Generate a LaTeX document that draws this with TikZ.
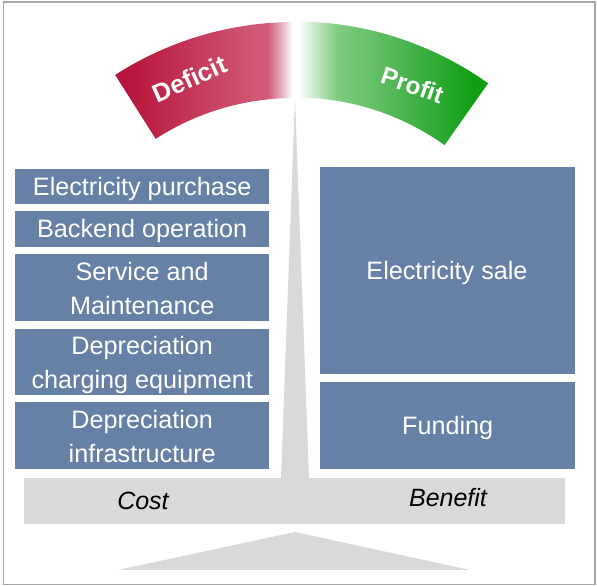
\documentclass[tikz,border=0pt]{standalone}
\usepackage{fontspec}
\setmainfont{Liberation Sans}
\definecolor{boxblue}{HTML}{6680A6}
\definecolor{beamgrey}{HTML}{D9D9D9}
\definecolor{framegrey}{HTML}{A6A6A6}
\definecolor{redend}{HTML}{B8163C}
\definecolor{redmid}{HTML}{D05A75}
\definecolor{redpale}{HTML}{E8B0BE}
\definecolor{greenend}{HTML}{0E9E12}
\definecolor{greenmid}{HTML}{80CC80}
\definecolor{greenhalf}{HTML}{4DB552}
\definecolor{greenpale}{HTML}{CDEBCF}
\pgfdeclarehorizontalshading{deficitfade}{100bp}{color(0bp)=(redend); color(29bp)=(redend); color(64bp)=(redmid); color(67bp)=(redmid); color(71bp)=(redpale); color(74bp)=(white); color(100bp)=(white)}
\pgfdeclarehorizontalshading{profitfade}{100bp}{color(0bp)=(white); color(25bp)=(white); color(29bp)=(greenpale); color(35bp)=(greenmid); color(52bp)=(greenhalf); color(71bp)=(greenend); color(100bp)=(greenend)}
\tikzset{
  costbox/.style={fill=boxblue,text=white,font=\fontsize{25.2}{34}\selectfont,align=center,anchor=north west,inner sep=0pt,minimum width=254pt},
  gainbox/.style={fill=boxblue,text=white,font=\fontsize{25.2}{34}\selectfont,align=center,anchor=north west,inner sep=0pt,minimum width=255pt},
  grey/.style={fill=beamgrey,draw=none},
  gaugetext/.style={text=white,font=\fontsize{25.5}{25.5}\selectfont\bfseries,inner sep=0pt},
  beamtext/.style={text=black,font=\fontsize{25}{25}\selectfont\itshape,inner sep=0pt}
}
\begin{document}
\begin{tikzpicture}[x=1pt,y=1pt]
\useasboundingbox (0,0) rectangle (597,586);
\fill[white] (0,0) rectangle (597,586);
\draw[framegrey,line width=1.5pt] (3.5,1.5) rectangle (595,584);
% scale
\coordinate (pivot) at (295,232);
\path[grey] (295,488) -- (281,108) -- (309,108) -- cycle;
\node[grey,minimum width=541pt,minimum height=46pt,inner sep=0pt,anchor=north west] (beam) at (24,108) {};
\path[grey] (295,54) -- (118,16) -- (470,16) -- cycle;
% boxes
\node[costbox,minimum height=35pt] (c1) at (15,417) {};
\node[costbox,minimum height=36pt] (c2) at (15,375) {};
\node[costbox,minimum height=67pt] (c3) at (15,332) {};
\node[costbox,minimum height=66pt] (c4) at (15,257) {};
\node[costbox,minimum height=67pt] (c5) at (15,184) {};
\node[gainbox,minimum height=207pt] (g1) at (320,419) {};
\node[gainbox,minimum height=87pt] (g2) at (320,204) {};
\node[costbox,anchor=center,fill=none,minimum width=0pt] (c1t) at ([yshift=-2pt]c1.center) {Electricity purchase};
\node[costbox,anchor=center,fill=none,minimum width=0pt] (c2t) at ([yshift=-2pt]c2.center) {Backend operation};
\node[costbox,anchor=center,fill=none,minimum width=0pt] (c3t) at ([yshift=-0.5pt]c3.center) {Service and\\Maintenance};
\node[costbox,anchor=center,fill=none,minimum width=0pt] (c4t) at ([yshift=-3pt]c4.center) {Depreciation\\charging equipment};
\node[costbox,anchor=center,fill=none,minimum width=0pt] (c5t) at ([yshift=-1pt]c5.center) {Depreciation\\infrastructure};
\node[costbox,anchor=center,fill=none,minimum width=0pt] (g1t) at (447,313) {Electricity sale};
\node[costbox,anchor=center,fill=none,minimum width=0pt] (g2t) at ([yshift=-2.5pt]g2.center) {Funding};
\node[beamtext] (cost) at (143,85) {Cost};
\node[beamtext] (benefit) at (448,88) {Benefit};
% gauge
\begin{scope}
\clip (pivot) ++(122.8:332) arc (122.8:90.5:332) -- ++(0,-76) arc (90.5:122.8:256) -- cycle;
\shade[shading=deficitfade] (115,420) rectangle (296,570);
\end{scope}
\begin{scope}
\clip (pivot) ++(54.5:332.5) arc (54.5:89.3:332.5) -- ++(0,-76) arc (89.3:54.5:256) -- cycle;
\shade[shading=profitfade] (298,420) rectangle (490,570);
\end{scope}
\node[gaugetext,rotate=24] (deficit) at (189.5,507) {Deficit};
\node[gaugetext,rotate=-19,font=\fontsize{24.5}{24.5}\selectfont\bfseries] (profit) at (412.5,501) {Profit};
\end{tikzpicture}
\end{document}
